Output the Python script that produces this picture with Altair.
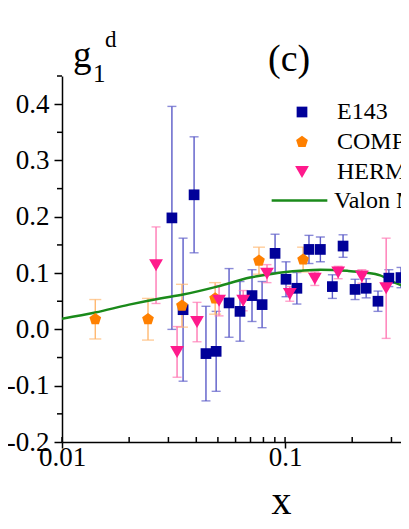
import altair as alt
import pandas as pd

# ---------------- data ----------------
e143_x = [0.0311, 0.0391, 0.0349, 0.0442, 0.0491, 0.0561, 0.0628, 0.0711, 0.0789, 0.0902, 0.101,
          0.113, 0.128, 0.144, 0.163, 0.182, 0.206, 0.231, 0.261, 0.292, 0.331]
e143_y = [0.198, 0.239, 0.035, -0.043, -0.039, 0.047, 0.032, 0.060, 0.044, 0.135, 0.089,
          0.073, 0.142, 0.142, 0.076, 0.148, 0.071, 0.073, 0.050, 0.091, 0.092]
e143_err = [0.198, 0.103, 0.127, 0.084, 0.071, 0.061, 0.053, 0.046, 0.041, 0.034, 0.031,
            0.028, 0.025, 0.022, 0.021, 0.020, 0.018, 0.017, 0.018, 0.015, 0.018]

compass_x = [0.0141, 0.0243, 0.0345, 0.0486, 0.0764, 0.1205]
compass_y = [0.018, 0.018, 0.042, 0.055, 0.122, 0.124]
compass_err = [0.035, 0.037, 0.038, 0.028, 0.024, 0.022]

hermes_x = [0.0264, 0.0328, 0.0403, 0.0506, 0.0649, 0.083, 0.105, 0.136, 0.173, 0.221, 0.284, 0.356]
hermes_y = [0.114, -0.040, 0.013, 0.051, 0.051, 0.099, 0.063, 0.090, 0.101, 0.094, 0.073, 0.081]
hermes_err = [0.068, 0.045, 0.035, 0.027, 0.018, 0.016, 0.013, 0.012, 0.011, 0.012, 0.089, 0.078]

valon_x = [0.01, 0.0141, 0.0200, 0.0275, 0.0349, 0.0496, 0.0697, 0.0884, 0.117, 0.144, 0.190,
           0.228, 0.267, 0.310, 0.358, 0.40]
valon_y = [0.019, 0.030, 0.044, 0.055, 0.062, 0.076, 0.092, 0.099, 0.104, 0.106, 0.104,
           0.101, 0.096, 0.083, 0.073, 0.062]

point_series = ["E143", "COMPASS", "HERMES"]
line_series = ["Valon Model"]
x_major = [0.01, 0.1]
x_minor = [0.02, 0.03, 0.04, 0.05, 0.06, 0.07, 0.08, 0.09, 0.2, 0.3]
y_major = [-0.2, -0.1, 0.0, 0.1, 0.2, 0.3, 0.4]
y_minor = [-0.15, -0.05, 0.05, 0.15, 0.25, 0.35, 0.45]

# ---------------- tables ----------------
def pts(name, xs, ys, es):
    return pd.DataFrame({"series": name, "x": xs, "y": ys,
                         "lo": [a - b for a, b in zip(ys, es)],
                         "hi": [a + b for a, b in zip(ys, es)]})

df_e = pts("E143", e143_x, e143_y, e143_err)
df_c = pts("COMPASS", compass_x, compass_y, compass_err)
df_h = pts("HERMES", hermes_x, hermes_y, hermes_err)
df_pts = pd.concat([df_e, df_c, df_h], ignore_index=True)
df_pts["order"] = df_pts["series"].map({"E143": 0, "COMPASS": 1, "HERMES": 2})
df_v = pd.DataFrame({"series": "Valon Model", "x": valon_x, "y": valon_y})

FONT = "Liberation Serif"
W, H = 339, 366
xscale = alt.Scale(type="log", domain=[0.01, 0.331], nice=False, padding=0)
yscale = alt.Scale(domain=[-0.2, 0.45], nice=False, zero=False, padding=0)

pt_colors = ["#000099", "#ff8000", "#ff1a8c"]
err_colors = {"E143": "#5b5bc8", "COMPASS": "#ffb870", "HERMES": "#ff78b4"}
pentagon = "M0,-1L0.951,-0.309L0.588,0.809L-0.588,0.809L-0.951,-0.309Z"
shapes = ["square", pentagon, "triangle-down"]

pt_legend = alt.Legend(
    title=None, orient="none", legendX=228, legendY=24,
    labelFont=FONT, labelFontSize=24, labelColor="black", labelOffset=23,
    rowPadding=6, labelLimit=400, symbolSize=110, symbolStrokeWidth=0, padding=0,
)
line_legend = alt.Legend(
    title=None, orient="none", legendX=208, legendY=95,
    labelFont=FONT, labelFontSize=24, labelColor="black", labelOffset=5,
    labelLimit=400, symbolType="stroke", symbolSize=3100, symbolStrokeWidth=2.5, padding=0,
)

x_axis = alt.Axis(values=x_major, labelExpr="datum.value < 0.05 ? '0.01' : '0.1'",
                  title="x", titleFont=FONT, titleFontSize=40, titleFontWeight="normal",
                  titlePadding=11, titleX=219, titleAlign="center", titleColor="black",
                  labelFont=FONT, labelFontSize=27, labelColor="black",
                  tickSize=6, tickWidth=1.5, tickColor="black", labelPadding=-4,
                  domainColor="black", domainWidth=1.5, grid=False, labelFlush=False)
y_axis = alt.Axis(values=y_major,
                  labelExpr="datum.value < -0.001 ? '-' + format(-datum.value, '.1f') : format(abs(datum.value), '.1f')",
                  title="", labelFont=FONT, labelFontSize=27, labelColor="black",
                  tickSize=8, tickWidth=1.5, tickColor="black", labelPadding=5,
                  domainColor="black", domainWidth=1.5, grid=False, labelFlush=False)

X = lambda f: alt.X(f, scale=xscale, axis=x_axis)
Y = lambda f: alt.Y(f, scale=yscale, axis=y_axis)

layers = []
# minor ticks
layers.append(alt.Chart(pd.DataFrame({"v": y_minor})).mark_rule(color="black", strokeWidth=1.5).encode(
    y=Y("v:Q"), x=alt.value(-5), x2=alt.value(0)))
layers.append(alt.Chart(pd.DataFrame({"v": x_minor + x_major})).mark_rule(color="black", strokeWidth=1.5).encode(
    x=X("v:Q"), y=alt.value(H), y2=alt.value(H - 5)))

for df, cap in [(df_e, 9), (df_c, 12), (df_h, 9)]:
    name = df["series"][0]
    ec = err_colors[name]
    base = alt.Chart(df)
    layers.append(base.mark_rule(color=ec, strokeWidth=1.4).encode(
        x=X("x:Q"), y=Y("lo:Q"), y2="hi:Q"))
    for f in ["lo", "hi"]:
        layers.append(base.mark_tick(color=ec, orient="horizontal", size=cap, thickness=1.4).encode(
            x=X("x:Q"), y=Y(f + ":Q")))

layers.append(alt.Chart(df_v).mark_line(strokeWidth=2.5, clip=True, interpolate="monotone").encode(
    x=X("x:Q"), y=Y("y:Q"),
    color=alt.Color("series:N", scale=alt.Scale(domain=line_series, range=["#1a8a1a"]), legend=line_legend)))

layers.append(alt.Chart(df_pts).mark_point(filled=True, opacity=1).encode(
    x=X("x:Q"), y=Y("y:Q"),
    color=alt.Color("series:N", scale=alt.Scale(domain=point_series, range=pt_colors), legend=pt_legend),
    shape=alt.Shape("series:N", scale=alt.Scale(domain=point_series, range=shapes), legend=pt_legend),
    size=alt.Size("series:N", scale=alt.Scale(domain=point_series, range=[115, 190, 170]), legend=None),
    order="order:Q"))

# annotations
def txt(s, size, xv, yv):
    return alt.Chart(pd.DataFrame({"t": [s]})).mark_text(
        font=FONT, fontSize=size, align="left", baseline="alphabetic", color="black").encode(
        text="t:N", x=alt.value(xv), y=alt.value(yv))

layers += [txt("g", 37, 11, -9), txt("1", 25, 31, 6), txt("d", 23, 43, -29), txt("(c)", 38, 206, -5)]

chart = alt.layer(*layers).resolve_scale(color="independent", shape="independent", size="independent").properties(
    width=W, height=H,
    autosize=alt.AutoSizeParams(type="none"),
    padding={"left": 54, "top": 68, "right": 0, "bottom": 79},
).configure_view(stroke=None)

chart.save("out.html", embed_options={"renderer": "svg", "actions": False})
